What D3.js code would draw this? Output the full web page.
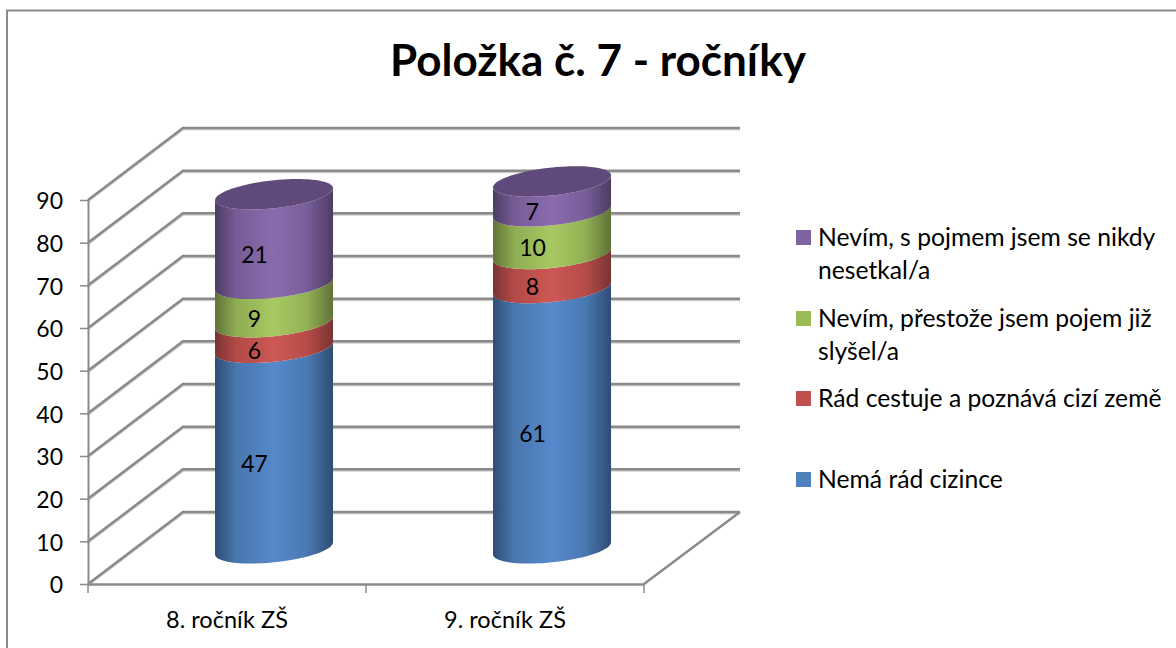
<!DOCTYPE html>
<html>
<head>
<meta charset="utf-8">
<script src="https://cdnjs.cloudflare.com/ajax/libs/d3/7.8.5/d3.min.js"></script>
<style>
body { margin: 0; background: #fff; }
text { font-family: Lato, sans-serif; fill: #000; }
</style>
</head>
<body>
<div id="chart"></div>
<script>
var categories = ['8. ročník ZŠ', '9. ročník ZŠ'];
var seriesNames = ['Nemá rád cizince', 'Rád cestuje a poznává cizí země', 'Nevím, přestože jsem pojem již slyšel/a', 'Nevím, s pojmem jsem se nikdy nesetkal/a'];
var seriesValues = [
  [47, 61],
  [6, 8],
  [9, 10],
  [21, 7]
];
var yTicks = [0, 10, 20, 30, 40, 50, 60, 70, 80, 90];
var legendLines = [
  ['Nevím, s pojmem jsem se nikdy', 'nesetkal/a'],
  ['Nevím, přestože jsem pojem již', 'slyšel/a'],
  ['Rád cestuje a poznává cizí země'],
  ['Nemá rád cizince']
];

var width = 1176, height = 648;
var depthX = 95, depthY = -72;
var barDepth = 0.495;
var rx = 59;

var colors = ['#4f81bd', '#c0504d', '#9bbb59', '#8064a2'];
var mid = ['#5788cb', '#cd5854', '#a8c962', '#8a6cae'];
var edge = ['#2e4d74', '#7a3432', '#5f7337', '#4d3c63'];
var capColor = '#604a7b';

var svg = d3.select('#chart').append('svg')
  .attr('width', width)
  .attr('height', height)
  .style('display', 'block');

var defs = svg.append('defs');
colors.forEach(function(c, i) {
  var g = defs.append('linearGradient').attr('id', 'grad' + i);
  g.append('stop').attr('offset', '0%').attr('stop-color', edge[i]);
  g.append('stop').attr('offset', '18%').attr('stop-color', d3.interpolateRgb(edge[i], c)(0.8));
  g.append('stop').attr('offset', '50%').attr('stop-color', mid[i]);
  g.append('stop').attr('offset', '78%').attr('stop-color', d3.interpolateRgb(edge[i], c)(0.85));
  g.append('stop').attr('offset', '100%').attr('stop-color', edge[i]);
});

// frame, the picture is cropped so there is no right side
svg.append('path')
  .attr('d', 'M7,648V10.5H1176')
  .attr('fill', 'none')
  .attr('stroke', '#8a8a8a')
  .attr('stroke-width', 2);

svg.append('text')
  .attr('x', 598)
  .attr('y', 76)
  .attr('text-anchor', 'middle')
  .style('font-size', '44px')
  .style('font-weight', 'bold')
  .text('Položka č. 7 - ročníky');

var x = d3.scaleBand().domain(categories).range([88, 644]);
var y = d3.scaleLinear().domain([0, 90]).range([584, 200]);

var gridColor = '#8a8a8a';
var shadowColor = '#cfcfcf';

function wallPath(v) {
  var py = y(v);
  return 'M' + x.range()[0] + ',' + py +
    'L' + (x.range()[0] + depthX) + ',' + (py + depthY) +
    'H' + (x.range()[1] + depthX + 1);
}

// wall gridlines, lighter copy first so it reads as the soft edge
svg.append('g').selectAll('path.shadow')
  .data(yTicks)
  .enter()
  .append('path')
  .attr('class', 'shadow')
  .attr('d', function(d) { return wallPath(d); })
  .attr('transform', 'translate(0,1.5)')
  .attr('fill', 'none')
  .attr('stroke', shadowColor)
  .attr('stroke-width', 2);

svg.append('g').selectAll('path.grid')
  .data(yTicks)
  .enter()
  .append('path')
  .attr('class', 'grid')
  .attr('d', function(d) { return wallPath(d); })
  .attr('fill', 'none')
  .attr('stroke', gridColor)
  .attr('stroke-width', 2.5);

// floor right edge and front edge
svg.append('path')
  .attr('d', 'M' + x.range()[1] + ',' + y(0) + 'L' + (x.range()[1] + depthX + 1) + ',' + (y(0) + depthY))
  .attr('fill', 'none')
  .attr('stroke', gridColor)
  .attr('stroke-width', 2.5);

// y axis
var yAxis = svg.append('g')
  .attr('transform', 'translate(' + x.range()[0] + ',0)')
  .call(d3.axisLeft(y).tickValues(yTicks).tickSize(8).tickPadding(17).tickSizeOuter(0));
yAxis.selectAll('line').attr('stroke', gridColor).attr('stroke-width', 1.5);
yAxis.select('.domain').attr('stroke', gridColor).attr('stroke-width', 2);
yAxis.selectAll('text').style('font-size', '23px').attr('dy', '0.39em');

// x axis
var xAxis = svg.append('g')
  .attr('transform', 'translate(0,' + y(0) + ')')
  .call(d3.axisBottom(x).tickSize(0).tickPadding(27).tickSizeOuter(0));
xAxis.select('.domain').attr('stroke', gridColor).attr('stroke-width', 2.5);
xAxis.selectAll('text').style('font-size', '23.5px');

svg.append('g').selectAll('line')
  .data([x(categories[0]), x(categories[1]), x.range()[1]])
  .enter()
  .append('line')
  .attr('x1', function(d) { return d; })
  .attr('x2', function(d) { return d; })
  .attr('y1', y(0))
  .attr('y2', y(0) + 9)
  .attr('stroke', gridColor)
  .attr('stroke-width', 1.5);

// front half of the tilted base ellipse, from the left silhouette to the right one
function frontArc(cx, cy, reverse) {
  var pts = d3.range(0, 41).map(function(k) {
    var t = Math.PI - k / 40 * Math.PI;
    return [cx + rx * Math.cos(t), cy - 6 * Math.cos(t) + 14 * Math.sin(t)];
  });
  if (reverse) pts.reverse();
  return pts;
}

var line = d3.line();

var bars = svg.append('g');
var labels = svg.append('g');

categories.forEach(function(cat, c) {
  var cx = x(cat) + x.bandwidth() / 2 + depthX * barDepth;
  var base = 0;
  var offY = depthY * barDepth;
  seriesValues.forEach(function(vals, s) {
    var v = vals[c];
    var bottom = y(base) + offY;
    var top = y(base + v) + offY;
    bars.append('path')
      .attr('d', line(frontArc(cx, bottom, false).concat(frontArc(cx, top, true))) + 'Z')
      .attr('fill', 'url(#grad' + s + ')');
    labels.append('text')
      .attr('x', cx - 19.5)
      .attr('y', y(base + v / 2) + offY + 15.5)
      .attr('dy', '0.35em')
      .attr('text-anchor', 'middle')
      .style('font-size', '23px')
      .text(v);
    base += v;
  });
  // top cap
  var capY = y(base) + offY;
  var capPts = d3.range(0, 80).map(function(k) {
    var t = k / 80 * 2 * Math.PI;
    return [cx + rx * Math.cos(t), capY - 6 * Math.cos(t) + 14 * Math.sin(t)];
  });
  bars.append('path')
    .attr('d', line(capPts) + 'Z')
    .attr('fill', capColor);
});

// legend
var legendTop = [230, 311, 391, 472];
var legendColors = [colors[3], colors[2], colors[1], colors[0]];
var legend = svg.append('g');
legendLines.forEach(function(lines, i) {
  legend.append('rect')
    .attr('x', 796)
    .attr('y', legendTop[i])
    .attr('width', 15)
    .attr('height', 15)
    .attr('fill', legendColors[i]);
  lines.forEach(function(t, j) {
    legend.append('text')
      .attr('x', 818)
      .attr('y', legendTop[i] + 16 + j * 33)
      .style('font-size', '24.7px')
      .text(t);
  });
});
</script>
</body>
</html>
